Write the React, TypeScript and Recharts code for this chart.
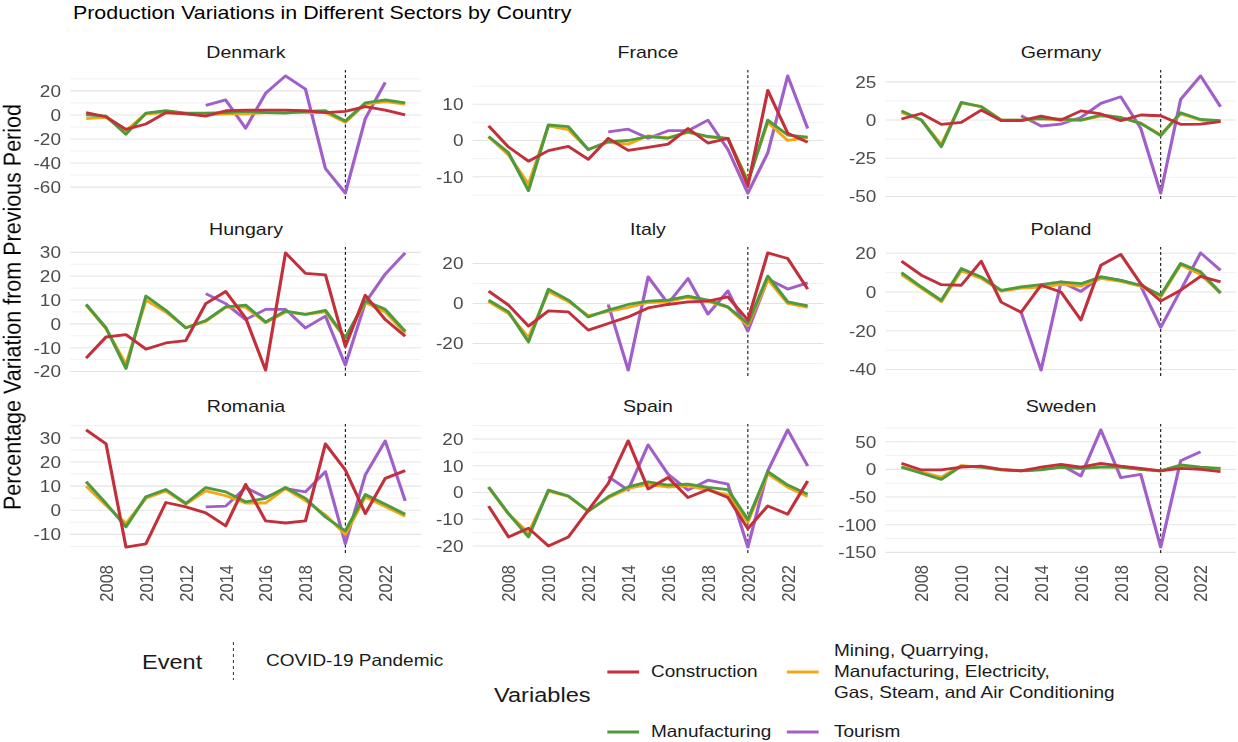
import React from 'react';
import { LineChart, Line, XAxis, YAxis, CartesianGrid, ReferenceLine } from 'recharts';

const YEARS = [2007, 2008, 2009, 2010, 2011, 2012, 2013, 2014, 2015, 2016, 2017, 2018, 2019, 2020, 2021, 2022, 2023];
const X_TICKS = [2008, 2010, 2012, 2014, 2016, 2018, 2020, 2022];
const EVENT_YEAR = 2020;
const N = null;

// Denmark
const DK_CONSTRUCTION = [2, -1.5, -12, -7.5, 2, 1, -1, 3.5, 4, 4, 4, 3.5, 2, 3, 7, 4, 0];
const DK_MANUFACTURING = [0, -1, -16, 1.5, 3.5, 1.5, 1.5, 2, 3, 2, 1.5, 3, 3.5, -5, 10, 12.5, 10];
const DK_MINING = [-3, -2, -13, 1, 2, 1, 0, 1, 1, 2, 2, 2, 2, -6, 9, 11, 9];
const DK_TOURISM = [N, N, N, N, N, N, 8, 12.5, -11, 18, 32.5, 21.5, -44.5, -65, -3, 27, N];
const DK_TICKS = [-60, -40, -20, 0, 20];

// France
const FR_CONSTRUCTION = [4, -1.8, -5.7, -2.8, -1.6, -5.2, 0.6, -2.7, -1.9, -1, 3.3, -0.7, 0.6, -12.5, 13.8, 2, -0.5];
const FR_MANUFACTURING = [1.1, -3.4, -13.8, 4.3, 3.8, -2.5, -0.3, 0, 1.1, 0.6, 2.4, 1.1, 0.6, -11.6, 5.6, 1.5, 0.9];
const FR_MINING = [1, -4, -12, 4, 3, -2.5, -0.5, -1, 1.3, 0.8, 2.2, 1, 0.5, -11, 5, 0, 0.8];
const FR_TOURISM = [N, N, N, N, N, N, 2.4, 3.1, 0.6, 2.7, 2.7, 5.6, -2.5, -14.5, -3.4, 17.8, 3.3];
const FR_TICKS = [-10, 0, 10];

// Germany
const DE_CONSTRUCTION = [0.7, 4.3, -2.8, -1.5, 6.5, -0.4, -0.4, 2.6, 0, 6, 4, -0.4, 3.3, 2.8, -2.8, -2.6, -1.1];
const DE_MANUFACTURING = [6, 0, -17.4, 11.5, 8.7, 0, 0, 1, 0.6, 0, 3.3, 1.7, -2.2, -10.2, 4.8, 0.4, -0.4];
const DE_MINING = [5, 0, -16, 11, 9, 0, 0, 1, 0, 0, 2.5, 1.5, -2, -9.5, 4, 0, -1];
const DE_TOURISM = [N, N, N, N, N, N, 2.8, -3.9, -2.6, 1.7, 10.9, 15.2, -5.4, -47.8, 13.5, 28.9, 8.7];
const DE_TICKS = [-50, -25, 0, 25];

// Hungary
const HU_CONSTRUCTION = [-14.4, -5.5, -4.5, -10.6, -8, -7, 8.5, 13.6, 2.5, -19.4, 29.8, 21.2, 20.6, -9.5, 12, 1.8, -5.2];
const HU_MANUFACTURING = [8.2, -1.7, -18.7, 11.7, 5.7, -1.7, 1.4, 7.1, 7.9, 0.8, 5.4, 4, 5.7, -5.9, 9.6, 6.1, -3.1];
const HU_MINING = [8, -2, -17, 10, 5, -1.5, 1, 7, 7, 0.5, 5, 4, 5, -6, 9, 5, -4];
const HU_TOURISM = [N, N, N, N, N, N, 12.7, 8.5, 1.8, 6.1, 6.1, -1.7, 3.3, -17.3, 8.9, 20.9, 29.8];
const HU_TICKS = [-20, -10, 0, 10, 20, 30];

// Italy
const IT_CONSTRUCTION = [6.2, -0.8, -11.3, -3.7, -4.2, -13.3, -10, -6.7, -2.2, -0.5, 0.8, 1.2, 3.3, -8.3, 25.3, 22.5, 7.2];
const IT_MANUFACTURING = [1.7, -4.2, -19.2, 7.2, 1.7, -6.7, -3.3, -0.5, 1.2, 1.7, 3.7, 1.7, -1.7, -10, 13.7, 0.8, -1.2];
const IT_MINING = [1, -5, -17, 6, 1, -6, -4, -2, 0.5, 1, 3, 1, -2, -11, 12, 0, -2];
const IT_TOURISM = [N, N, N, N, N, N, -0.5, -33.3, 13.3, 0, 12.5, -5.3, 6.3, -13.8, 12.2, 7.2, 10.3];
const IT_TICKS = [-20, 0, 20];

// Poland
const PL_CONSTRUCTION = [15.9, 8.7, 3.8, 3.5, 15.9, -5.2, -10.4, 3.5, 0, -14.4, 13.8, 19.4, 4.3, -4.7, 0.9, 8.1, 5.2];
const PL_MANUFACTURING = [10, 2.6, -4.3, 12.1, 7.8, 0.9, 2.6, 3.8, 5.2, 4.3, 7.8, 6, 3.5, -1.7, 14.7, 10.4, -0.5];
const PL_MINING = [9, 2, -5, 11, 7, 0.5, 2, 2.5, 4, 3, 7, 5.5, 3, -2.5, 14, 9, -0.5];
const PL_TOURISM = [N, N, N, N, N, N, -10.4, -40.3, 5.2, 0.3, 7.8, 6, 3.1, -18.2, 0.9, 20.2, 11.2];
const PL_TICKS = [-40, -20, 0, 20];

// Romania
const RO_CONSTRUCTION = [33.3, 27.5, -15.3, -13.9, 3.2, 1.4, -1.1, -6.5, 10.7, -4.4, -5.3, -4.4, 27.5, 16.7, -1.4, 13.2, 16.4];
const RO_MANUFACTURING = [11.8, 2.8, -6.9, 5.6, 8.6, 2.8, 9.4, 7.6, 3.5, 4.9, 9.4, 4.9, -2.8, -8.6, 6.5, 2.5, -1.7];
const RO_MINING = [10, 2, -5.5, 5, 8, 2.5, 8, 6, 3, 3, 9, 4, -2, -10, 5.5, 1.5, -2.5];
const RO_TOURISM = [N, N, N, N, N, N, 1.4, 1.7, 9.4, 5.3, 9, 7.6, 16, -13.9, 14.6, 28.7, 3.9];
const RO_TICKS = [-10, 0, 10, 20, 30];

// Spain
const ES_CONSTRUCTION = [-5.1, -16.6, -13.3, -20, -16.6, -6.6, 3.4, 19.3, 1.3, 5.6, -1.9, 1.1, -1.9, -13.5, -5, -8.1, 4.3];
const ES_MANUFACTURING = [2.1, -7.9, -16.6, 0.9, -1.3, -7, -1.6, 2.1, 4, 2.8, 3.1, 1.9, 1.1, -10.1, 7.8, 2.8, -0.6];
const ES_MINING = [2, -8, -15, 0.5, -1.5, -7, -2, 1.5, 3, 2, 2.5, 1, -1, -11, 7, 2, -1.5];
const ES_TOURISM = [N, N, N, N, N, N, 5.9, 0.9, 17.8, 6.8, 0.9, 4.6, 3.1, -20.4, 8.1, 23.4, 9.9];
const ES_TICKS = [-20, -10, 0, 10, 20];

// Sweden
const SE_CONSTRUCTION = [11, -1, -1, 4, 6, 0, -2.5, 4, 9, 4, 11, 6, 2, -2.5, 2, 0, -4];
const SE_MANUFACTURING = [4, -7, -18, 6, 4, -1, -2.5, -1, 4, 2, 4, 4, 0, -2.5, 8, 4, 2];
const SE_MINING = [5, -5, -14, 7, 4, -1, -2, 0, 4, 2, 5, 4, 0, -3, 7, 3, 1];
const SE_TOURISM = [N, N, N, N, N, N, N, N, 8, -12, 71.5, -15, -9, -140.6, 15.8, 32, N];
const SE_TICKS = [-150, -100, -50, 0, 50];

const COUNTRIES = [
  { name: 'Denmark', construction: DK_CONSTRUCTION, manufacturing: DK_MANUFACTURING, mining: DK_MINING, tourism: DK_TOURISM, ticks: DK_TICKS },
  { name: 'France', construction: FR_CONSTRUCTION, manufacturing: FR_MANUFACTURING, mining: FR_MINING, tourism: FR_TOURISM, ticks: FR_TICKS },
  { name: 'Germany', construction: DE_CONSTRUCTION, manufacturing: DE_MANUFACTURING, mining: DE_MINING, tourism: DE_TOURISM, ticks: DE_TICKS },
  { name: 'Hungary', construction: HU_CONSTRUCTION, manufacturing: HU_MANUFACTURING, mining: HU_MINING, tourism: HU_TOURISM, ticks: HU_TICKS },
  { name: 'Italy', construction: IT_CONSTRUCTION, manufacturing: IT_MANUFACTURING, mining: IT_MINING, tourism: IT_TOURISM, ticks: IT_TICKS },
  { name: 'Poland', construction: PL_CONSTRUCTION, manufacturing: PL_MANUFACTURING, mining: PL_MINING, tourism: PL_TOURISM, ticks: PL_TICKS },
  { name: 'Romania', construction: RO_CONSTRUCTION, manufacturing: RO_MANUFACTURING, mining: RO_MINING, tourism: RO_TOURISM, ticks: RO_TICKS },
  { name: 'Spain', construction: ES_CONSTRUCTION, manufacturing: ES_MANUFACTURING, mining: ES_MINING, tourism: ES_TOURISM, ticks: ES_TICKS },
  { name: 'Sweden', construction: SE_CONSTRUCTION, manufacturing: SE_MANUFACTURING, mining: SE_MINING, tourism: SE_TOURISM, ticks: SE_TICKS },
];

// draw order: first is at the bottom
const SERIES = [
  { key: 'tourism', label: 'Tourism', color: '#a15fc9' },
  { key: 'mining', label: 'Mining, Quarrying,\nManufacturing, Electricity,\nGas, Steam, and Air Conditioning', color: '#f3a712' },
  { key: 'manufacturing', label: 'Manufacturing', color: '#4e9a3c' },
  { key: 'construction', label: 'Construction', color: '#c2303c' },
];

const FONT = '"Liberation Sans", Arial, sans-serif';
// the reference is a little stretched horizontally
const SX = 1.15;
const PANEL_W = 351 / SX;
const PANEL_H = 129;
const AXIS_W = 50;
const X_AXIS_H = 56;
const PAD = 12; // room so edge tick labels are not clipped
const COL_LEFT = [70.5 / SX, 472.5 / SX, 885.5 / SX];
const ROW_TOP = [69.5, 247, 423.5];

function rowsFor(c: any) {
  return YEARS.map((year, i) => ({
    year,
    construction: c.construction[i],
    manufacturing: c.manufacturing[i],
    mining: c.mining[i],
    tourism: c.tourism[i],
  }));
}

function paddedDomain(c: any): [number, number] {
  const vals = [...c.construction, ...c.manufacturing, ...c.mining, ...c.tourism].filter((v) => v !== null);
  const lo = Math.min(...vals);
  const hi = Math.max(...vals);
  const pad = (hi - lo) * 0.05;
  return [lo - pad, hi + pad];
}

function minorLines(ticks: number[], domain: [number, number]) {
  const step = ticks[1] - ticks[0];
  const out = [ticks[0] - step / 2, ...ticks.map((t) => t + step / 2)];
  return out.filter((v) => v > domain[0] && v < domain[1]);
}

const YTick = (props: any) => {
  const { x, y, payload } = props;
  return (
    <text x={x} y={y} dy="0.36em" textAnchor="end" fill="#4d4d4d" fontSize={16.5} fontFamily={FONT}>
      {payload.value}
    </text>
  );
};

const XTick = (props: any) => {
  const { x, y, payload } = props;
  return (
    <text
      x={x}
      y={y}
      dy="0.36em"
      textAnchor="end"
      transform={`rotate(-90, ${x}, ${y})`}
      fill="#4d4d4d"
      fontSize={16.5}
      fontFamily={FONT}
    >
      {payload.value}
    </text>
  );
};

function Panel({ country, col, row }: { country: any; col: number; row: number }) {
  const bottom = row === 2;
  const domain = paddedDomain(country);
  const left = COL_LEFT[col];
  const top = ROW_TOP[row];
  return (
    <>
      <div
        style={{
          position: 'absolute', left, top: top - 28, width: PANEL_W, height: 21,
          lineHeight: '21px', textAlign: 'center', fontSize: 17, color: '#1a1a1a',
        }}
      >
        {country.name}
      </div>
      <div style={{ position: 'absolute', left: left - AXIS_W, top: top - PAD }}>
        <LineChart
          width={AXIS_W + PANEL_W}
          height={PANEL_H + PAD + (bottom ? X_AXIS_H : PAD)}
          data={rowsFor(country)}
          margin={{ top: PAD, right: 0, bottom: bottom ? 0 : PAD, left: 0 }}
        >
          <CartesianGrid vertical={false} horizontalValues={minorLines(country.ticks, domain)} stroke="#efefef" strokeWidth={0.8} />
          <CartesianGrid vertical={false} horizontalValues={country.ticks} stroke="#e4e4e4" strokeWidth={1.1} />
          <XAxis
            dataKey="year"
            type="number"
            domain={[2006.2, 2023.8]}
            ticks={X_TICKS}
            interval={0}
            hide={!bottom}
            height={X_AXIS_H}
            axisLine={false}
            tickLine={false}
            tickSize={0}
            tickMargin={12}
            tick={<XTick />}
          />
          <YAxis
            type="number"
            domain={domain}
            ticks={country.ticks}
            interval={0}
            width={AXIS_W}
            axisLine={false}
            tickLine={false}
            tickSize={0}
            tickMargin={8}
            tick={<YTick />}
          />
          <ReferenceLine x={EVENT_YEAR} stroke="#000" strokeWidth={0.9} strokeDasharray="3 2.5" />
          {SERIES.map((s) => (
            <Line
              key={s.key}
              dataKey={s.key}
              type="linear"
              stroke={s.color}
              strokeWidth={2.8}
              strokeLinejoin="round"
              dot={false}
              activeDot={false}
              connectNulls={false}
              isAnimationActive={false}
            />
          ))}
        </LineChart>
      </div>
    </>
  );
}

function LegendKey({ x, y, color, dashed }: { x: number; y: number; color: string; dashed?: boolean }) {
  if (dashed) {
    return (
      <svg style={{ position: 'absolute', left: x - 2, top: y - 19 }} width={4} height={38}>
        <line x1={2} y1={0} x2={2} y2={38} stroke="#444" strokeWidth={1} strokeDasharray="3 3" />
      </svg>
    );
  }
  return (
    <svg style={{ position: 'absolute', left: x, top: y - 3 }} width={28} height={6}>
      <line x1={0} y1={3} x2={28} y2={3} stroke={color} strokeWidth={3} />
    </svg>
  );
}

function Label({ x, y, text, size }: { x: number; y: number; text: string; size: number }) {
  return (
    <div style={{ position: 'absolute', left: x, top: y - size * 0.6, lineHeight: `${size * 1.2}px`, fontSize: size, color: '#1a1a1a', whiteSpace: 'nowrap' }}>
      {text}
    </div>
  );
}

export default function App() {
  const find = (k: string) => SERIES.find((s) => s.key === k)!;
  const keyL = 607 / SX;
  const keyR = 787 / SX;
  const textL = 651 / SX;
  const textR = 834 / SX;
  const miningLines = find('mining').label.split('\n');
  return (
    <div
      style={{
        position: 'absolute', left: 0, top: 0, width: 1238 / SX, height: 742,
        background: '#fff', fontFamily: FONT, transform: `scaleX(${SX})`, transformOrigin: '0 0',
      }}
    >
      <div style={{ position: 'absolute', left: 73 / SX, top: 1.5, fontSize: 18.6, lineHeight: '22px', color: '#000', whiteSpace: 'nowrap' }}>
        Production Variations in Different Sectors by Country
      </div>
      <div
        style={{
          position: 'absolute', left: 13 / SX - 250, top: 307 - 13, width: 500, height: 26,
          lineHeight: '26px', textAlign: 'center', fontSize: 21.5, color: '#000', transform: 'rotate(-90deg)',
        }}
      >
        Percentage Variation from Previous Period
      </div>

      {COUNTRIES.map((c, i) => (
        <Panel key={c.name} country={c} col={i % 3} row={Math.floor(i / 3)} />
      ))}

      {/* legend: event */}
      <Label x={142 / SX} y={662} text="Event" size={20.5} />
      <LegendKey x={233.5 / SX} y={661} color="#444" dashed />
      <Label x={266 / SX} y={661} text="COVID-19 Pandemic" size={16.5} />

      {/* legend: variables */}
      <Label x={494 / SX} y={695} text="Variables" size={20.5} />
      <LegendKey x={keyL} y={671.5} color={find('construction').color} />
      <Label x={textL} y={671.5} text={find('construction').label} size={16.5} />
      <LegendKey x={keyR} y={671.5} color={find('mining').color} />
      {miningLines.map((t, i) => (
        <Label key={t} x={textR} y={651 + i * 21} text={t} size={16.5} />
      ))}
      <LegendKey x={keyL} y={731.5} color={find('manufacturing').color} />
      <Label x={textL} y={731.5} text={find('manufacturing').label} size={16.5} />
      <LegendKey x={keyR} y={731.5} color={find('tourism').color} />
      <Label x={textR} y={731.5} text={find('tourism').label} size={16.5} />
    </div>
  );
}
